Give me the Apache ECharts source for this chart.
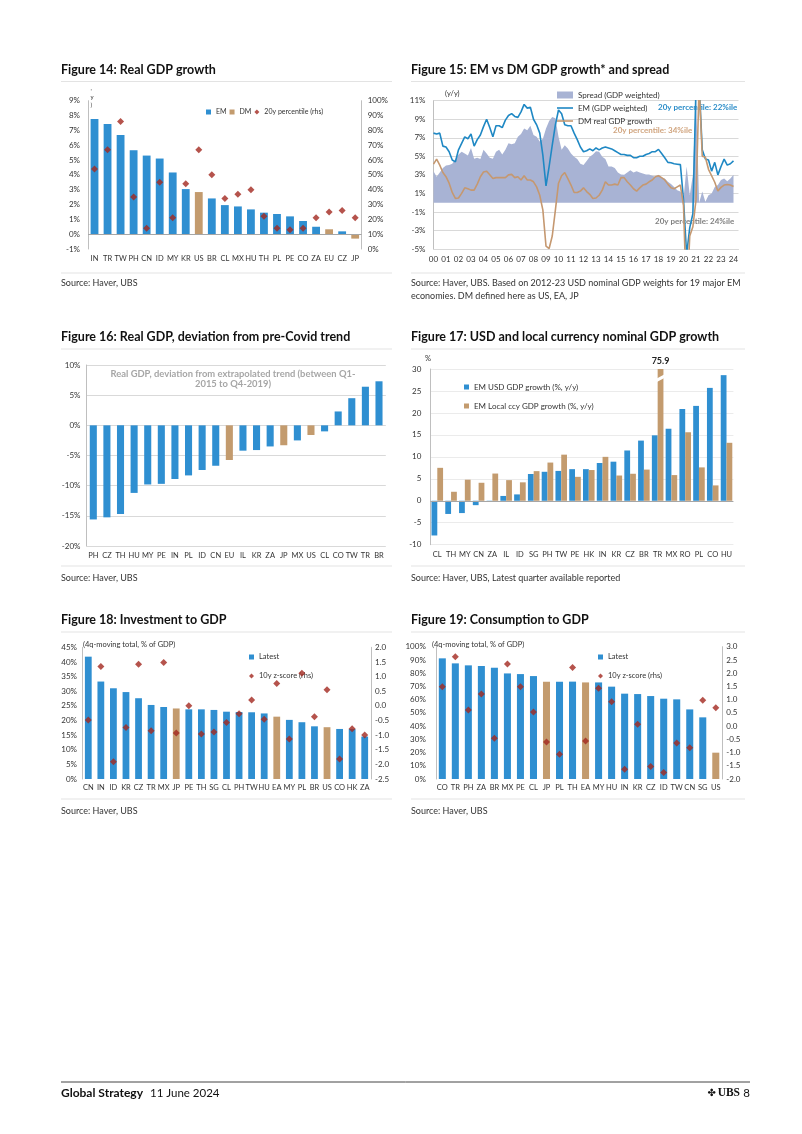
<!DOCTYPE html>
<html><head><meta charset="utf-8">
<script src="https://cdn.jsdelivr.net/npm/echarts@6/dist/echarts.min.js"></script>
<style>html,body{margin:0;padding:0;background:#fff}#c{width:802px;height:1134px}</style>
</head><body><div id="c"></div>
<script>
// ---------- Figure 14 ----------
const f14Cats = ['IN','TR','TW','PH','CN','ID','MY','KR','US','BR','CL','MX','HU','TH','PL','PE','CO','ZA','EU','CZ','JP'];
const f14Growth = [7.77,7.43,6.69,5.66,5.30,5.10,4.16,3.04,2.84,2.41,1.96,1.87,1.67,1.45,1.36,1.20,0.89,0.50,0.33,0.19,-0.30];
const f14Pct = [54,67,86,35,14,45,21,44,67,50,34,37,40,22,14,13,14,21,25,26,21];
const f14DM = ['US','EU','JP'];
// ---------- Figure 15 (quarterly, 2000Q1 - 2024Q1) ----------
const f15Start = 2000;
const f15EM = [7.5,7.4,7.5,6.1, 6.0,5.5,4.6,4.4, 5.7,6.4,7.1,6.9, 7.4,6.1,6.8,7.3, 8.2,9.0,8.1,7.1, 8.3,8.3,8.1,8.9,
  9.4,9.6,9.3,9.2, 9.8,10.6,10.2,10.3, 9.0,8.4,7.5,5.1, 1.8,3.9,6.2,8.4, 10.0,9.6,8.4,8.3, 8.3,7.5,6.8,6.0,
  5.5,5.6,5.8,5.6, 5.9,5.7,5.9,6.0, 5.9,5.8,5.6,5.4, 5.2,5.2,5.1,5.1, 4.85,4.85,5.0,5.0, 5.2,5.3,5.5,5.5,
  5.75,5.3,4.85,4.35, 4.3,4.2,4.15,4.1, 0.3,-5.6,-2.7,-1.2, 12.5,12.8,5.7,4.7, 4.6,3.4,4.35,3.0, 3.9,4.7,4.05,4.2, 4.5];
const f15DM = [4.15,4.7,4.05,3.25, 2.8,2.1,1.1,0.45, 0.5,1.0,1.6,1.5, 1.35,1.35,2.0,2.8, 3.3,3.4,3.0,2.6, 2.7,2.7,2.7,2.7,
  3.0,3.05,2.7,2.8, 2.45,2.9,2.45,2.45, 2.25,1.7,0.8,-0.8, -4.7,-4.95,-3.6,-0.8, 2.1,2.9,3.25,2.6, 1.9,1.1,1.1,1.25,
  1.6,1.2,0.9,0.45, 0.5,0.8,1.35,2.25, 1.9,1.9,2.0,1.9, 2.7,2.7,2.25,1.9, 1.5,1.25,1.6,1.9, 2.0,2.25,2.45,2.8,
  2.9,2.7,2.45,2.0, 1.6,1.5,1.7,1.9, -0.3,-11.0,-3.6,-2.6, 0.3,12.8,5.0,4.9, 3.6,2.9,2.2,1.25, 1.65,1.9,1.95,1.9, 1.75];
const f15Spread = [3.4,2.8,3.25,3.75, 4.0,4.05,4.2,4.7, 5.2,5.5,5.3,5.1, 5.9,4.75,4.85,4.7, 5.7,5.3,4.85,4.75, 5.5,5.7,5.2,5.7,
  6.4,6.3,6.4,7.1, 7.4,8.0,7.8,8.3, 7.3,7.1,6.6,6.9, 8.0,8.8,9.25,9.1, 7.1,5.7,6.2,5.85, 5.3,4.95,4.7,4.2,
  4.05,4.5,4.95,5.2, 5.55,5.5,4.95,4.7, 3.9,3.9,3.75,3.25, 3.05,3.0,3.25,3.5, 3.25,3.4,3.25,3.15, 3.05,3.05,2.9,2.8,
  3.0,2.7,2.6,2.25, 2.0,1.7,1.35,1.2, 0.45,3.9,0.8,3.0, 12.0,0.0,1.2,0.1, 0.8,1.0,1.7,1.9, 2.45,2.6,2.3,2.6, 3.0];
// ---------- Figure 16 ----------
const f16Cats = ['PH','CZ','TH','HU','MY','PE','IN','PL','ID','CN','EU','IL','KR','ZA','JP','MX','US','CL','CO','TW','TR','BR'];
const f16Dev = [-15.6,-15.25,-14.7,-11.2,-9.8,-9.7,-8.9,-8.3,-7.4,-6.7,-5.75,-4.2,-4.1,-3.5,-3.3,-2.5,-1.6,-1.0,2.3,4.5,6.4,7.3];
const f16DM = ['EU','JP','US'];
// ---------- Figure 17 ----------
const f17Cats = ['CL','TH','MY','CN','ZA','IL','ID','SG','PH','TW','PE','HK','IN','KR','CZ','BR','TR','MX','RO','PL','CO','HU'];
const f17USD = [-7.9,-3.0,-2.8,-1.0,-0.1,1.1,1.45,6.1,6.6,6.8,7.2,7.2,8.6,8.9,11.45,13.7,14.9,16.4,20.9,21.6,25.7,28.6];
const f17Local = [7.5,2.05,4.8,4.1,6.2,4.7,4.2,6.75,8.7,10.5,5.45,7.0,10.0,5.75,6.15,7.1,75.9,5.85,15.6,7.6,3.5,13.2];
// ---------- Figure 18 ----------
const f18Cats = ['CN','IN','ID','KR','CZ','TR','MX','JP','PE','TH','SG','CL','PH','TW','HU','EA','MY','PL','BR','US','CO','HK','ZA'];
const f18Latest = [41.8,33.3,31.0,29.7,27.6,25.3,24.6,24.1,23.8,23.8,23.6,23.0,22.9,22.8,22.4,21.3,20.2,19.4,18.0,17.7,17.1,17.1,14.5];
const f18Z = [-0.48,1.34,-1.91,-0.74,1.42,-0.85,1.48,-0.93,0.0,-0.96,-0.89,-0.57,-0.27,0.2,-0.46,0.76,-1.13,1.11,-0.37,0.55,-1.82,-0.78,-1.0];
const f18DM = ['JP','EA','US'];
// ---------- Figure 19 ----------
const f19Cats = ['CO','TR','PH','ZA','BR','MX','PE','CL','JP','PL','TH','EA','MY','HU','IN','KR','CZ','ID','TW','CN','SG','US'];
const f19Latest = [91.2,87.4,85.9,85.4,84.1,79.8,79.3,77.8,73.6,73.6,73.6,73.0,73.0,69.8,64.5,64.2,62.7,60.7,60.2,52.6,46.6,19.9];
const f19Z = [1.49,2.62,0.61,1.21,-0.46,2.35,1.49,0.53,-0.6,-1.06,2.21,-0.56,1.43,0.92,-1.63,0.07,-1.53,-1.75,-0.64,-0.82,0.98,0.69];
const f19DM = ['JP','EA','US'];

const FONT = 'Lato, "Open Sans", sans-serif';
const BLUE = '#2F8FD1', TAN = '#C39B6E', RED = '#A3281F', GRIDC = '#D9D9D9', AXISC = '#BFBFBF', TXT = '#333333';
const LINE_ICON = 'path://M0,0 L20,0 L20,2 L0,2 Z';

function split(cats, vals, dmList, wantDM){
  return cats.map((c,i)=> (dmList.indexOf(c) >= 0) === wantDM ? vals[i] : null);
}
function catAxis(gi, data, margin){
  return {type:'category', gridIndex:gi, data:data,
    axisTick:{show:false}, axisLine:{show:false, onZero:false},
    axisLabel:{fontSize:7.5, color:TXT, fontFamily:FONT, margin:margin, interval:0}};
}
function valAxis(gi, min, max, interval, fmt, o){
  o = o || {};
  return {type:'value', gridIndex:gi, min:min, max:max, interval:interval, position:o.pos||'left',
    axisLine:{show:o.line!==false, lineStyle:{color:AXISC}}, axisTick:{show:false},
    splitLine:{show:!!o.split, lineStyle:{color:o.splitColor||GRIDC, width:1}},
    axisLabel:{fontSize:8, color:TXT, fontFamily:FONT, margin:o.margin||8, formatter:fmt}};
}
const pct = v => v + '%';
const dec1 = v => v.toFixed(1);
const zeroLine = {silent:true, symbol:['none','none'], label:{show:false},
  lineStyle:{color:'#A6A6A6', width:1, type:'solid'}, data:[{yAxis:0}]};

function txt(x, y, s, size, o){
  o = o || {};
  return {type:'text', x:x, y:y, silent:true, z:o.z||0,
    style:{text:s, fontSize:size, fontWeight:o.bold?'bold':'normal', fontFamily:o.family||FONT,
      fill:o.fill||TXT, align:o.align||'left', verticalAlign:'middle'}};
}
function hline(x1, x2, y, stroke, w){
  return {type:'line', silent:true, shape:{x1:x1, y1:y, x2:x2, y2:y}, style:{stroke:stroke, lineWidth:w||1}};
}
const q = arr => arr.map((v,i)=>[f15Start + i/4, v]);

const option = {
  backgroundColor:'#ffffff',
  animation:false,
  textStyle:{fontFamily:FONT},
  grid:[
    {left:88, top:100.7, width:273.7, height:148.3},
    {left:433.5, top:100.7, width:305, height:148.3},
    {left:86.5, top:365, width:299.3, height:181},
    {left:430.4, top:369, width:303, height:175.7},
    {left:82, top:647.3, width:289, height:131.7},
    {left:435.8, top:646.7, width:286.5, height:132.3}
  ],
  xAxis:[
    catAxis(0, f14Cats, 6),
    {type:'value', gridIndex:1, min:2000, max:2024.4, interval:1,
      axisLine:{show:true, onZero:false, lineStyle:{color:GRIDC}}, axisTick:{show:false}, splitLine:{show:false},
      axisLabel:{fontSize:8, color:TXT, fontFamily:FONT, margin:6,
        formatter:v => Number.isInteger(v) ? String(v % 100).padStart(2,'0') : ''}},
    catAxis(2, f16Cats, 6),
    catAxis(3, f17Cats, 6),
    catAxis(4, f18Cats, 5),
    catAxis(5, f19Cats, 5)
  ],
  yAxis:[
    valAxis(0, -1, 9, 1, pct, {margin:8}),
    valAxis(0, 0, 100, 10, pct, {pos:'right', margin:6}),
    valAxis(1, -5, 11, 2, pct, {split:true, margin:8}),
    valAxis(2, -20, 10, 5, pct, {split:true, margin:6}),
    valAxis(3, -10, 30, 5, v=>v, {split:true, splitColor:'#EBEBEB', margin:9}),
    valAxis(4, 0, 45, 5, pct, {margin:5}),
    valAxis(4, -2.5, 2.0, 0.5, dec1, {pos:'right', margin:4}),
    valAxis(5, 0, 100, 10, pct, {margin:10}),
    valAxis(5, -2, 3, 0.5, dec1, {pos:'right', margin:4})
  ],
  legend:[
    {left:201, top:103.5, itemWidth:5, itemHeight:5, itemGap:3, textStyle:{fontSize:7, color:TXT, fontFamily:FONT},
      data:[{name:'EM', icon:'rect'}, {name:'DM', icon:'rect'}, {name:'20y percentile (rhs)', icon:'diamond'}]},
    {left:552, top:86, orient:'vertical', itemWidth:16, itemHeight:7, itemGap:5, textStyle:{fontSize:8, color:TXT, fontFamily:FONT},
      data:[{name:'Spread (GDP weighted)', icon:'rect'}, {name:'EM (GDP weighted)', icon:LINE_ICON}, {name:'DM real GDP growth', icon:LINE_ICON}]},
    {left:459, top:378, orient:'vertical', itemWidth:5, itemHeight:5, itemGap:11, textStyle:{fontSize:8, color:TXT, fontFamily:FONT},
      data:[{name:'EM USD GDP growth (%, y/y)', icon:'rect'}, {name:'EM Local ccy GDP growth (%, y/y)', icon:'rect'}]},
    {left:244, top:648, orient:'vertical', itemWidth:5, itemHeight:5, itemGap:11, textStyle:{fontSize:7.5, color:TXT, fontFamily:FONT},
      data:[{name:'Latest', icon:'rect'}, {name:'10y z-score (rhs)', icon:'diamond'}]},
    {left:593, top:648, orient:'vertical', itemWidth:5, itemHeight:5, itemGap:11, textStyle:{fontSize:7.5, color:TXT, fontFamily:FONT},
      data:[{name:'Latest', icon:'rect'}, {name:'10y z-score (rhs)', icon:'diamond'}]}
  ],
  series:[
    // Fig 14
    {name:'EM', type:'bar', xAxisIndex:0, yAxisIndex:0, barWidth:'60%', barGap:'-100%', itemStyle:{color:BLUE},
      data:split(f14Cats, f14Growth, f14DM, false), markLine:zeroLine},
    {name:'DM', type:'bar', xAxisIndex:0, yAxisIndex:0, barWidth:'60%', barGap:'-100%', itemStyle:{color:TAN},
      data:split(f14Cats, f14Growth, f14DM, true)},
    {name:'20y percentile (rhs)', type:'scatter', xAxisIndex:0, yAxisIndex:1, symbol:'diamond', symbolSize:7,
      itemStyle:{color:RED}, data:f14Pct, z:5},
    // Fig 15
    {name:'Spread (GDP weighted)', type:'line', xAxisIndex:1, yAxisIndex:2, symbol:'none', clip:true,
      lineStyle:{width:0}, itemStyle:{color:'#A8B3D4'}, areaStyle:{color:'#A8B3D4', opacity:1}, data:q(f15Spread)},
    {name:'EM (GDP weighted)', type:'line', xAxisIndex:1, yAxisIndex:2, symbol:'none', clip:true,
      lineStyle:{width:1.6, color:'#1F88C4'}, itemStyle:{color:'#1F88C4'}, data:q(f15EM)},
    {name:'DM real GDP growth', type:'line', xAxisIndex:1, yAxisIndex:2, symbol:'none', clip:true,
      lineStyle:{width:1.6, color:'#C59870'}, itemStyle:{color:'#C59870'}, data:q(f15DM)},
    // Fig 16
    {name:'f16EM', type:'bar', xAxisIndex:2, yAxisIndex:3, barWidth:'52%', barGap:'-100%', itemStyle:{color:BLUE},
      data:split(f16Cats, f16Dev, f16DM, false)},
    {name:'f16DM', type:'bar', xAxisIndex:2, yAxisIndex:3, barWidth:'52%', barGap:'-100%', itemStyle:{color:TAN},
      data:split(f16Cats, f16Dev, f16DM, true)},
    // Fig 17
    {name:'EM USD GDP growth (%, y/y)', type:'bar', xAxisIndex:3, yAxisIndex:4, barWidth:'42%', barGap:'0%',
      itemStyle:{color:BLUE}, data:f17USD, markLine:zeroLine},
    {name:'EM Local ccy GDP growth (%, y/y)', type:'bar', xAxisIndex:3, yAxisIndex:4, barWidth:'42%', barGap:'0%',
      itemStyle:{color:TAN}, data:f17Local, clip:true,
      markPoint:{silent:true, data:[
        {coord:['TR', 27.9], symbol:'rect', symbolSize:[12, 3.2], symbolRotate:28, itemStyle:{color:'#ffffff'}, label:{show:false}},
        {coord:['TR', 30], symbol:'rect', symbolSize:0, label:{show:true, position:'top', distance:3, formatter:'75.9',
          fontSize:9, fontWeight:'bold', color:'#222', fontFamily:FONT}}
      ]}},
    // Fig 18
    {name:'Latest', type:'bar', xAxisIndex:4, yAxisIndex:5, barWidth:'54%', barGap:'-100%', itemStyle:{color:BLUE},
      data:split(f18Cats, f18Latest, f18DM, false)},
    {name:'f18DM', type:'bar', xAxisIndex:4, yAxisIndex:5, barWidth:'54%', barGap:'-100%', itemStyle:{color:TAN},
      data:split(f18Cats, f18Latest, f18DM, true)},
    {name:'10y z-score (rhs)', type:'scatter', xAxisIndex:4, yAxisIndex:6, symbol:'diamond', symbolSize:7,
      itemStyle:{color:RED}, data:f18Z, z:5},
    // Fig 19
    {name:'Latest', type:'bar', xAxisIndex:5, yAxisIndex:7, barWidth:'54%', barGap:'-100%', itemStyle:{color:BLUE},
      data:split(f19Cats, f19Latest, f19DM, false)},
    {name:'f19DM', type:'bar', xAxisIndex:5, yAxisIndex:7, barWidth:'54%', barGap:'-100%', itemStyle:{color:TAN},
      data:split(f19Cats, f19Latest, f19DM, true)},
    {name:'10y z-score (rhs)', type:'scatter', xAxisIndex:5, yAxisIndex:8, symbol:'diamond', symbolSize:7,
      itemStyle:{color:RED}, data:f19Z, z:5}
  ],
  graphic:[
    // titles
    txt(61, 70, 'Figure 14: Real GDP growth', 12.5, {bold:true, fill:'#111'}),
    txt(411, 70, 'Figure 15: EM vs DM GDP growth* and spread', 12.5, {bold:true, fill:'#111'}),
    txt(61, 337, 'Figure 16: Real GDP, deviation from pre-Covid trend', 12.5, {bold:true, fill:'#111'}),
    txt(411, 337, 'Figure 17: USD and local currency nominal GDP growth', 12.5, {bold:true, fill:'#111'}),
    txt(61, 620, 'Figure 18: Investment to GDP', 12.5, {bold:true, fill:'#111'}),
    txt(411, 620, 'Figure 19: Consumption to GDP', 12.5, {bold:true, fill:'#111'}),
    // separators
    hline(61, 392, 81.5, '#E3E3E3'), hline(411, 745, 81.5, '#E3E3E3'),
    hline(61, 392, 273, '#E3E3E3'), hline(411, 745, 273, '#E3E3E3'),
    hline(61, 392, 349, '#E3E3E3'), hline(411, 745, 349, '#E3E3E3'),
    hline(61, 392, 566, '#E3E3E3'), hline(411, 745, 566, '#E3E3E3'),
    hline(61, 392, 632, '#E3E3E3'), hline(411, 745, 632, '#E3E3E3'),
    hline(61, 392, 799, '#E3E3E3'), hline(411, 745, 799, '#E3E3E3'),
    // sources
    txt(61, 283, 'Source: Haver, UBS', 9),
    txt(411, 283, 'Source: Haver, UBS. Based on 2012-23 USD nominal GDP weights for 19 major EM', 9),
    txt(411, 296, 'economies. DM defined here as US, EA, JP', 9),
    txt(61, 578, 'Source: Haver, UBS', 9),
    txt(411, 578, 'Source: Haver, UBS, Latest quarter available reported', 9),
    txt(61, 811, 'Source: Haver, UBS', 9),
    txt(411, 811, 'Source: Haver, UBS', 9),
    // chart annotations
    txt(90.5, 88, ',', 6), txt(90.5, 97.5, 'y', 6), txt(90.5, 105.5, ')', 6),
    txt(445, 94, '(y/y)', 7.5),
    txt(658, 107, '20y percentile: 22%ile', 8, {bold:true, fill:'#2A8CC8'}),
    txt(613, 130, '20y percentile: 34%ile', 8, {bold:true, fill:'#D0A47E'}),
    txt(655, 221, '20y percentile: 24%ile', 8, {bold:true, fill:'#808080'}),
    txt(233, 374, 'Real GDP, deviation from extrapolated trend (between Q1-', 9.4, {bold:true, fill:'#A6A6A6', align:'center'}),
    txt(233, 384, '2015 to Q4-2019)', 9.4, {bold:true, fill:'#A6A6A6', align:'center'}),
    txt(425, 359, '%', 7.5),
    txt(83, 645, '(4q-moving total, % of GDP)', 7.5),
    txt(432, 645, '(4q-moving total, % of GDP)', 7.5),
    // footer
    hline(61, 750, 1082, '#444444', 1),
    txt(61, 1093, 'Global Strategy', 12, {bold:true, fill:'#111'}),
    txt(150, 1093, '11 June 2024', 11.5, {fill:'#111'}),
    txt(716, 1093, '✤', 10, {fill:'#111', align:'right', family:'DejaVu Sans'}),
    txt(740, 1093, 'UBS', 11.5, {bold:true, fill:'#111', align:'right', family:'"Liberation Serif", serif'}),
    txt(750, 1093, '8', 11.5, {fill:'#111', align:'right'})
  ]
};
const chart = echarts.init(document.getElementById('c'), null, {renderer:'canvas'});
chart.setOption(option);
</script></body></html>
